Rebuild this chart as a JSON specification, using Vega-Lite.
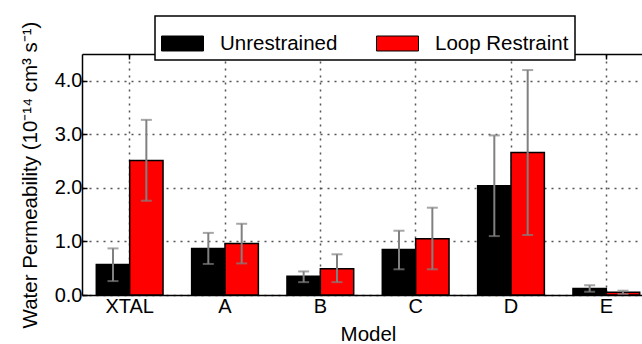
{
  "$schema": "https://vega.github.io/schema/vega-lite/v6.json",
  "autosize": {"type": "none"},
  "padding": {"left": 82, "top": 54, "right": 0, "bottom": 49},
  "width": 560,
  "height": 241,
  "background": "white",
  "config": {
    "font": "Liberation Sans",
    "view": {"stroke": null},
    "axis": {
      "labelFont": "Liberation Sans",
      "titleFont": "Liberation Sans",
      "labelColor": "black",
      "titleColor": "black",
      "titleFontWeight": "normal",
      "domainColor": "black",
      "domainWidth": 1.5,
      "tickColor": "black",
      "gridColor": "#555555",
      "gridDash": [2, 5],
      "gridWidth": 1.5,
      "gridOpacity": 1
    }
  },
  "data": {
    "values": [
      {"Model": "XTAL", "Condition": "Unrestrained", "value": 0.57, "lo": 0.26, "hi": 0.87},
      {"Model": "XTAL", "Condition": "Loop Restraint", "value": 2.51, "lo": 1.76, "hi": 3.27},
      {"Model": "A", "Condition": "Unrestrained", "value": 0.87, "lo": 0.58, "hi": 1.16},
      {"Model": "A", "Condition": "Loop Restraint", "value": 0.96, "lo": 0.59, "hi": 1.33},
      {"Model": "B", "Condition": "Unrestrained", "value": 0.35, "lo": 0.24, "hi": 0.44},
      {"Model": "B", "Condition": "Loop Restraint", "value": 0.49, "lo": 0.24, "hi": 0.76},
      {"Model": "C", "Condition": "Unrestrained", "value": 0.85, "lo": 0.48, "hi": 1.2},
      {"Model": "C", "Condition": "Loop Restraint", "value": 1.05, "lo": 0.48, "hi": 1.63},
      {"Model": "D", "Condition": "Unrestrained", "value": 2.04, "lo": 1.1, "hi": 2.98},
      {"Model": "D", "Condition": "Loop Restraint", "value": 2.66, "lo": 1.12, "hi": 4.2},
      {"Model": "E", "Condition": "Unrestrained", "value": 0.12, "lo": 0.06, "hi": 0.18},
      {"Model": "E", "Condition": "Loop Restraint", "value": 0.05, "lo": 0.02, "hi": 0.08}
    ]
  },
  "encoding": {
    "x": {
      "field": "Model",
      "type": "nominal",
      "sort": ["XTAL", "A", "B", "C", "D", "E"],
      "scale": {"range": [0, 572], "paddingInner": 0.3, "paddingOuter": 0.15},
      "axis": null
    },
    "xOffset": {
      "field": "Condition",
      "type": "nominal",
      "sort": ["Unrestrained", "Loop Restraint"]
    }
  },
  "layer": [
    {
      "mark": {"type": "bar", "stroke": "black", "strokeWidth": 1.5},
      "encoding": {
        "x": {
          "field": "Model",
          "type": "nominal",
          "sort": ["XTAL", "A", "B", "C", "D", "E"],
          "axis": {
            "orient": "bottom",
            "title": "Model",
            "labelAngle": 0,
            "labelFontSize": 20,
            "titleFontSize": 20.5,
            "labelPadding": 6,
            "titlePadding": 8,
            "tickSize": -5,
            "tickWidth": 1.5,
            "grid": true
          }
        },
        "y": {
          "field": "value",
          "type": "quantitative",
          "scale": {"domain": [0, 4.5], "nice": false},
          "axis": {
            "title": "Water Permeability (10⁻¹⁴ cm³ s⁻¹)",
            "values": [0, 0.5, 1, 1.5, 2, 2.5, 3, 3.5, 4, 4.5],
            "labelExpr": "datum.value % 1 === 0 ? format(datum.value, '.1f') : ''",
            "labelFontSize": 20,
            "titleFontSize": 20.5,
            "labelPadding": 5,
            "titlePadding": 14,
            "tickSize": -5,
            "tickWidth": 1.5,
            "grid": true
          }
        },
        "color": {
          "field": "Condition",
          "type": "nominal",
          "sort": ["Unrestrained", "Loop Restraint"],
          "scale": {"domain": ["Unrestrained", "Loop Restraint"], "range": ["#000000", "#ff0000"]},
          "legend": {
            "title": null,
            "orient": "none",
            "legendX": 73,
            "legendY": -38,
            "direction": "horizontal",
            "padding": 6,
            "strokeColor": "black",
            "fillColor": "white",
            "labelFont": "Liberation Sans",
            "labelFontSize": 20.5,
            "labelColor": "black",
            "labelOffset": 16,
            "columnPadding": 36,
            "symbolType": "M-1,-0.357H1V0.357H-1Z",
            "symbolSize": 1764,
            "symbolStrokeColor": "black",
            "symbolStrokeWidth": 1,
            "symbolOpacity": 1,
            "encode": {"legend": {"update": {"strokeWidth": {"value": 1.5}}}}
          }
        }
      }
    },
    {
      "mark": {"type": "rule", "color": "#808080", "strokeWidth": 2},
      "encoding": {
        "x": {
          "field": "Model",
          "type": "nominal",
          "sort": ["XTAL", "A", "B", "C", "D", "E"],
          "axis": {
            "orient": "top",
            "title": null,
            "labels": false,
            "tickSize": -5,
            "tickWidth": 1.5,
            "grid": false
          }
        },
        "y": {"field": "lo", "type": "quantitative"},
        "y2": {"field": "hi"}
      }
    },
    {
      "mark": {"type": "tick", "color": "#808080", "thickness": 2, "size": 11, "orient": "horizontal"},
      "encoding": {
        "y": {"field": "lo", "type": "quantitative"}
      }
    },
    {
      "mark": {"type": "tick", "color": "#808080", "thickness": 2, "size": 11, "orient": "horizontal"},
      "encoding": {
        "y": {"field": "hi", "type": "quantitative"}
      }
    }
  ]
}
